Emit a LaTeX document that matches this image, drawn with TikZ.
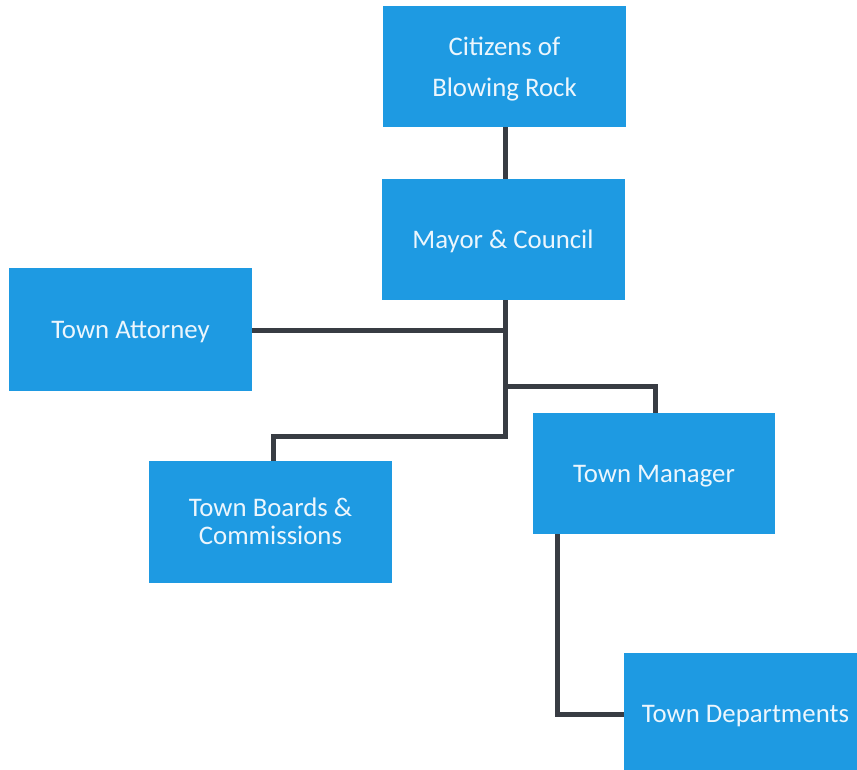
\documentclass[tikz,border=0pt]{standalone}
\usepackage{fontspec}
\setmainfont{Carlito}
\definecolor{boxblue}{RGB}{30,154,226}
\definecolor{boxtext}{RGB}{236,246,253}
\definecolor{linegray}{RGB}{56,60,67}
\begin{document}
\begin{tikzpicture}[x=1pt,y=-1pt,
  orgbox/.style={rectangle, fill=boxblue, draw=none, minimum width=243pt, minimum height=121pt,
    inner sep=0pt, text=boxtext, align=center, text height=17pt, text depth=0pt,
    font=\fontsize{26.8}{28}\selectfont},
  conn/.style={draw=linegray, line width=5pt, line cap=rect, line join=miter}]
\useasboundingbox (0,0) rectangle (857,769);
\clip (0,0) rectangle (857,769);
\fill[white] (0,0) rectangle (857,769);
% boxes
\node[orgbox, font=\fontsize{26.8}{41}\selectfont, text height=59pt] (cit) at (504.5,66.5) {Citizens of\\Blowing Rock};
\node[orgbox] (may) at (503,239.5) {Mayor \& Council};
\node[orgbox, minimum height=123pt] (att) at (130.5,329.5) {Town Attorney};
\node[orgbox, minimum height=122pt, text height=45pt] (brd) at (270.5,522) {Town Boards \&\\Commissions};
\node[orgbox, minimum width=242pt] (mgr) at (654,473.5) {Town Manager};
\node[orgbox] (dep) at (745.5,713.5) {Town Departments};
% junction coordinates
\coordinate (t1) at (505,330);
\coordinate (t2) at (505,386);
\coordinate (t3) at (505,436);
\coordinate (b1) at (273,436);
\coordinate (m2) at (655,386);
\coordinate (m1) at (557,714);
% connectors
\draw[conn, line cap=butt] (t1 |- cit.south) -- (t1 |- may.north);
\draw[conn, line cap=butt] (t1 |- may.south) -- (t3);
\draw[conn, line cap=butt] (att.east |- t1) -- (t1);
\draw[conn] (t3) -- (b1);
\draw[conn, line cap=butt] (b1) -- (b1 |- brd.north);
\draw[conn] (t2) -- (m2);
\draw[conn, line cap=butt] (m2) -- (m2 |- mgr.north);
\draw[conn, line cap=butt] (m1 |- mgr.south) -- (m1) -- (m1 -| dep.west);
\end{tikzpicture}
\end{document}
